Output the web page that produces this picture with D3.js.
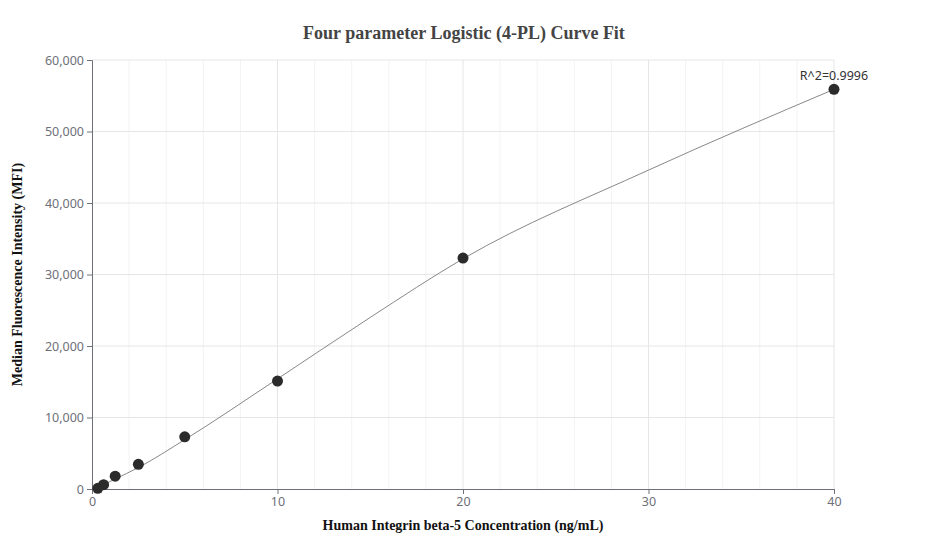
<!DOCTYPE html>
<html>
<head>
<script src="https://cdn.jsdelivr.net/npm/d3@7"></script>
<style>body{margin:0;background:#fff}</style>
</head>
<body>
<svg width="927" height="560" id="mainsvg"></svg>
<script>
const conc = [0.3125, 0.625, 1.25, 2.5, 5, 10, 20, 40];
const mfi = [100, 600, 1800, 3450, 7300, 15100, 32300, 55900];
const fitX = [0.3125, 0.625, 1.25, 2.5, 5, 10, 15, 20, 30, 40];
const fitY = [150, 600, 1400, 3000, 6900, 15400, 24000, 32200, 44600, 55900];
const xTicks = [0, 10, 20, 30, 40];
const yTicks = [0, 10000, 20000, 30000, 40000, 50000, 60000];

const svg = d3.select("#mainsvg");
const margin = {top: 60, right: 93, bottom: 71, left: 92};
const iw = 927 - margin.left - margin.right;
const ih = 560 - margin.top - margin.bottom;
const g = svg.append("g").attr("transform", `translate(${margin.left},${margin.top})`);

const x = d3.scaleLinear().domain([0, 40]).range([0, iw]);
const y = d3.scaleLinear().domain([0, 60000]).range([ih, 0]);

// minor grid
g.selectAll(".minor").data(d3.range(2, 41, 2).filter(v => v % 10 !== 0)).enter().append("line")
  .attr("x1", d => x(d)).attr("x2", d => x(d)).attr("y1", 0).attr("y2", ih)
  .attr("stroke", "#f3f3f3");
g.selectAll(".vg").data(xTicks.slice(1)).enter().append("line")
  .attr("x1", d => x(d)).attr("x2", d => x(d)).attr("y1", 0).attr("y2", ih)
  .attr("stroke", "#e6e6e6");
g.selectAll(".hg").data(yTicks.slice(1)).enter().append("line")
  .attr("x1", 0).attr("x2", iw).attr("y1", d => y(d)).attr("y2", d => y(d))
  .attr("stroke", "#e6e6e6");

const xa = g.append("g").attr("transform", `translate(0,${ih})`)
  .call(d3.axisBottom(x).tickValues(xTicks).tickSize(5).tickPadding(3));
const ya = g.append("g")
  .call(d3.axisLeft(y).tickValues(yTicks).tickSize(5).tickPadding(3).tickFormat(d3.format(",")));
[xa, ya].forEach(a => {
  a.selectAll("text").attr("fill", "#6e7079").attr("font-size", 12.5).attr("font-family", "Noto Sans, sans-serif");
  a.selectAll("line,.domain").attr("stroke", "#6e7079");
});

const line = d3.line().x((d, i) => x(fitX[i])).y(d => y(d)).curve(d3.curveMonotoneX);
g.append("path").datum(fitY).attr("d", line).attr("fill", "none").attr("stroke", "#888").attr("stroke-width", 1);

g.selectAll("circle").data(mfi).enter().append("circle")
  .attr("cx", (d, i) => x(conc[i])).attr("cy", d => y(d)).attr("r", 5.5).attr("fill", "#2b2b2b");

g.append("text").attr("x", x(40)).attr("y", y(55900) - 9).attr("text-anchor", "middle")
  .attr("font-size", 12.5).attr("font-family", "Noto Sans, sans-serif").attr("fill", "#333").text("R^2=0.9996");

svg.append("text").attr("x", 464).attr("y", 39).attr("text-anchor", "middle")
  .attr("font-family", "Liberation Serif, serif").attr("font-weight", "bold").attr("font-size", 18)
  .attr("fill", "#444").text("Four parameter Logistic (4-PL) Curve Fit");
svg.append("text").attr("x", margin.left + iw / 2).attr("y", 530).attr("text-anchor", "middle")
  .attr("font-family", "Liberation Serif, serif").attr("font-weight", "bold").attr("font-size", 14)
  .attr("fill", "#111").text("Human Integrin beta-5 Concentration (ng/mL)");
svg.append("text").attr("transform", `translate(22,${margin.top + ih / 2}) rotate(-90)`).attr("text-anchor", "middle")
  .attr("font-family", "Liberation Serif, serif").attr("font-weight", "bold").attr("font-size", 14)
  .attr("fill", "#111").text("Median Fluorescence Intensity (MFI)");
</script>
</body>
</html>
